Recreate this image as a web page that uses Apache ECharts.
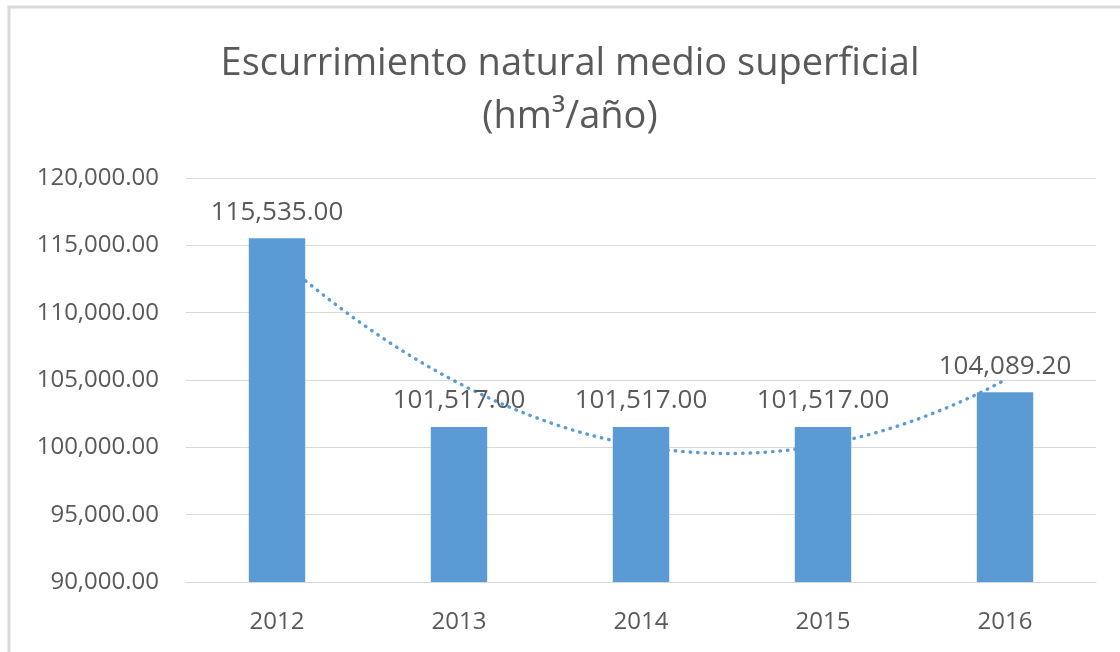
<!DOCTYPE html>
<html>
<head>
<meta charset="utf-8">
<title>Escurrimiento natural medio superficial</title>
<script src="https://cdn.jsdelivr.net/npm/echarts@6/dist/echarts.min.js"></script>
<style>
  html, body { margin: 0; padding: 0; background: #ffffff; }
  #chart { width: 1120px; height: 652px; }
</style>
</head>
<body>
<div id="chart"></div>
<script>
// Annual natural mean surface runoff, hm³ per year
const years = ['2012', '2013', '2014', '2015', '2016'];
const runoff = [115535.00, 101517.00, 101517.00, 101517.00, 104089.20];
const yTicks = [90000, 95000, 100000, 105000, 110000, 115000, 120000];

const titleText = 'Escurrimiento natural medio superficial\n(hm³/año)';
const textColor = '#595959';
const barColor = '#5B9BD5';
const gridColor = '#D9D9D9';
const fontFamily = '"Open Sans", "Noto Sans", sans-serif';

const fmt = new Intl.NumberFormat('en-US', { minimumFractionDigits: 2, maximumFractionDigits: 2 });

// Second-order polynomial trendline: least-squares fit over positions 1..n
function quadraticFit(ys) {
  const n = ys.length;
  let s = [0, 0, 0, 0, 0], t = [0, 0, 0];
  for (let i = 0; i < n; i++) {
    const x = i + 1;
    for (let k = 0; k <= 4; k++) s[k] += Math.pow(x, k);
    for (let k = 0; k <= 2; k++) t[k] += ys[i] * Math.pow(x, k);
  }
  // Normal equations solved with Cramer's rule
  const M = [[s[0], s[1], s[2]], [s[1], s[2], s[3]], [s[2], s[3], s[4]]];
  const det3 = m => m[0][0] * (m[1][1] * m[2][2] - m[1][2] * m[2][1])
                  - m[0][1] * (m[1][0] * m[2][2] - m[1][2] * m[2][0])
                  + m[0][2] * (m[1][0] * m[2][1] - m[1][1] * m[2][0]);
  const D = det3(M);
  const coef = [0, 1, 2].map(c => det3(M.map((row, r) => row.map((v, j) => (j === c ? t[r] : v)))) / D);
  return x => coef[0] + coef[1] * x + coef[2] * x * x;
}

const trend = quadraticFit(runoff);
const trendPoints = [];
for (let i = 0; i <= 240; i++) {
  const x = 1 + (runoff.length - 1) * i / 240;
  trendPoints.push([x, trend(x)]);
}

const chart = echarts.init(document.getElementById('chart'), null, { renderer: 'canvas' });

chart.setOption({
  backgroundColor: '#ffffff',
  animation: false,
  textStyle: { fontFamily: fontFamily },
  graphic: [{
    type: 'rect',
    shape: { x: 9, y: 7, width: 1300, height: 900 },
    style: { fill: 'none', stroke: gridColor, lineWidth: 3 },
    silent: true,
    z: -1
  }],
  title: {
    text: titleText,
    left: 565,
    top: 33,
    textAlign: 'center',
    textStyle: {
      color: textColor,
      fontFamily: fontFamily,
      fontSize: 38,
      fontWeight: 'normal',
      lineHeight: 53
    }
  },
  grid: { left: 186, right: 24, top: 178, bottom: 70, containLabel: false },
  xAxis: [{
    type: 'category',
    data: years,
    axisLine: { show: true, lineStyle: { color: gridColor, width: 1 } },
    axisTick: { show: false },
    axisLabel: { color: textColor, fontSize: 24, margin: 28, fontFamily: fontFamily }
  }, {
    type: 'value',
    min: 0.5,
    max: years.length + 0.5,
    show: false
  }],
  yAxis: {
    type: 'value',
    min: yTicks[0],
    max: yTicks[yTicks.length - 1],
    interval: yTicks[1] - yTicks[0],
    axisLine: { show: false },
    axisTick: { show: false },
    splitLine: { lineStyle: { color: gridColor, width: 1 } },
    axisLabel: {
      color: textColor,
      fontSize: 24,
      margin: 27,
      fontFamily: fontFamily,
      formatter: v => fmt.format(v)
    }
  },
  series: [{
    name: 'Tendencia',
    type: 'line',
    xAxisIndex: 1,
    data: trendPoints,
    showSymbol: false,
    smooth: false,
    z: 2,
    lineStyle: { color: barColor, width: 3.4, type: [0.5, 7], cap: 'round' }
  }, {
    name: 'Escurrimiento',
    type: 'bar',
    data: runoff,
    barWidth: '31%',
    z: 3,
    itemStyle: { color: barColor },
    label: {
      show: true,
      position: 'top',
      distance: 13,
      color: textColor,
      fontSize: 26,
      fontFamily: fontFamily,
      formatter: p => fmt.format(p.value)
    }
  }]
});
</script>
</body>
</html>
